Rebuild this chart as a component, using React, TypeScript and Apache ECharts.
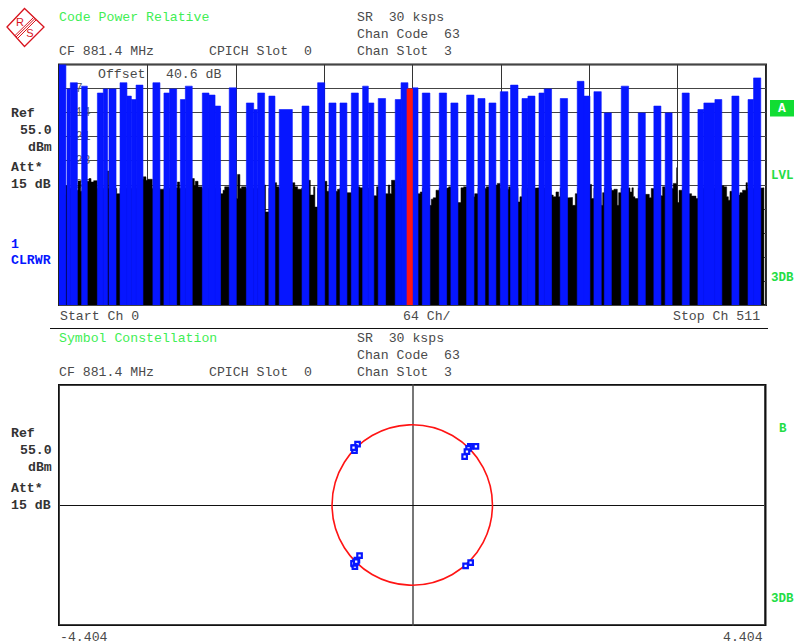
import React, { useEffect, useRef } from "react";
import * as echarts from "echarts";

// Code power: blue (active) codes, channel range and level in dB
const activeStart = [0, 5.8, 8.2, 16.4, 27.8, 32.1, 36.2, 44.2, 49.2, 52.4, 55.8, 68, 76, 80.1, 87.9, 91.5, 103.8, 108.6, 113, 123.3, 135.7, 141, 143.9, 152, 159.5, 176, 187.3, 195.5, 203.5, 211.7, 219.9, 224, 231.2, 243.5, 247.7, 256, 263.1, 275.4, 283.8, 295.2, 303.4, 311.4, 319.6, 327, 335.3, 339.6, 347.6, 351.4, 363, 375.3, 380.2, 387.4, 394.9, 407.2, 419.5, 430.8, 439, 451.3, 462.7, 467, 475, 487.3, 499, 503];
const activeEnd = [5, 8.2, 13.3, 20.5, 32.1, 35.2, 41.3, 49.2, 52.4, 55.8, 60.8, 73.1, 80.1, 85.2, 91.5, 96.5, 108.6, 113, 117, 128.4, 141, 143.9, 148.9, 156.4, 169, 181, 192.4, 200.6, 208.5, 216.8, 224, 228, 236.5, 247.7, 252.7, 260, 268.6, 280.7, 288.9, 300.5, 308.5, 316.4, 325.1, 332.4, 339.6, 344.7, 351.4, 356.7, 368.3, 380.2, 384.5, 392.7, 400, 412.5, 424.6, 435.9, 444, 456.4, 467, 475, 480, 492.4, 503, 508.2];
const activeLevel = [0, -7.1, -5.3, -6.3, -8.3, -7.1, -7.1, -5.3, -9.2, -10.2, -6, -5.3, -8.3, -7.1, -10.2, -6.3, -8.3, -8.9, -12.1, -6.8, -11.2, -13.1, -8.3, -9.2, -13.1, -12.1, -5.3, -11.2, -11.2, -8.3, -6.3, -11.2, -9.9, -10.2, -5.3, -6.8, -8.3, -8.3, -11.2, -8.9, -9.9, -11.2, -7.9, -6, -9.9, -9.2, -8.3, -7.1, -9.9, -4.9, -9.2, -7.9, -14.1, -6.3, -14.1, -12.1, -14.1, -8.3, -13.1, -11.2, -10.2, -9.2, -10.2, -3.9];

// Selected code 63
const selectedCode = [[252, 256, -7.1]];

// Inactive code noise floor: channel where each level begins, and the level in dB
const noiseChannel = [0, 4.6, 5.8, 12.6, 13.8, 15.7, 16.7, 19.6, 21.7, 23.2, 25.1, 27.8, 34.5, 36, 40.8, 41.8, 44.2, 59.6, 61, 63, 64.4, 67.6, 72.9, 76, 84.2, 85.7, 87.4, 95.8, 98, 98.7, 100.7, 103.6, 117, 118.8, 120, 123.3, 127.4, 129.3, 131, 132.2, 135.4, 147.9, 149.6, 152, 155.9, 157.6, 159.3, 168, 168.9, 170.8, 172.8, 175.7, 180.5, 182, 184.4, 185.3, 187.3, 191.4, 194, 195.5, 199.8, 201.7, 203.4, 208.3, 211.9, 216, 217.9, 220.3, 227.6, 230, 231.7, 235.5, 238.4, 239.6, 240.8, 243.7, 259.2, 261.6, 263.3, 268.2, 269.6, 271, 273, 275.4, 280.7, 282.2, 283.8, 288.7, 291.1, 293, 295.4, 299.5, 301, 303.4, 308.2, 309.4, 311.6, 315.9, 317.4, 319.6, 324.6, 325.6, 327, 332.4, 333.8, 335.3, 343.7, 347.8, 356.3, 357.9, 359.9, 361.8, 363, 367.8, 369, 371.9, 373.9, 375.6, 384, 384.5, 385.7, 387.4, 392.5, 392.7, 393.7, 395.1, 400, 401.9, 404.3, 405.3, 407, 411.8, 413.5, 414.9, 415.9, 417.1, 419.5, 424.3, 427.5, 428.9, 430.8, 435.2, 437.1, 439, 443.6, 444.8, 447.3, 447.7, 449, 451.6, 455.7, 458.1, 461.3, 462.9, 479.4, 481.5, 483.5, 484.7, 485.9, 487.6, 491.9, 493.1, 495, 497.5, 498.7, 507.6, 510.5];
const noiseLevel = [-38, -35.3, -36, -36.6, -33.9, -36.9, -36, -34, -33.2, -34.2, -33.8, -36, -31, -36, -36.1, -37.6, -36, -33.4, -32.7, -33.7, -33.4, -36, -36.3, -36, -35.9, -34.2, -36, -33.2, -35.3, -34, -35.6, -36, -37.6, -36.6, -35.6, -36, -39, -32, -36.1, -35.6, -36, -35.1, -42.9, -36, -34.4, -35.6, -36, -36.1, -34.4, -35.6, -36.3, -36, -33.7, -38, -35.6, -41.5, -36, -34, -36.9, -36, -36.9, -36.3, -36, -37.3, -36, -35.6, -35.9, -36, -38.2, -35.6, -36, -37.6, -35.1, -37.6, -33.7, -36, -37.6, -37.1, -36, -41, -39.2, -38.8, -36.6, -36, -35.9, -35.6, -36, -40.2, -35.9, -35.6, -36, -38.5, -37.6, -36, -36.1, -35.6, -36, -35.1, -34.6, -36, -36.3, -35.6, -36, -40, -38.5, -36, -35.9, -36, -38, -38.5, -37.1, -38.5, -36, -38.8, -38.7, -41, -37.6, -36, -37.1, -34.9, -39, -36, -36.6, -41, -37.3, -36, -36.6, -36.3, -41, -37.3, -36, -35.9, -37.1, -35.9, -38.5, -39, -36, -37.8, -38.8, -36.1, -36, -38.2, -35.6, -36, -36.1, -34.6, -30, -40.2, -36.6, -36, -37.6, -38.3, -39, -36, -35.3, -35.6, -38.5, -39.5, -36.9, -36, -38, -37.3, -36.6, -34.4, -36, -35.9, -70];

// Constellation symbols (I, Q)
const symbolI = [-0.682, -0.72, -0.72, -0.732, 0.794, 0.724, 0.702, 0.682, 0.653, 0.728, 0.665, -0.657, -0.69, -0.711, -0.724, -0.715, -0.732, -0.699];
const symbolQ = [0.762, 0.716, 0.679, 0.716, 0.734, 0.734, 0.709, 0.666, 0.604, -0.721, -0.762, -0.634, -0.688, -0.721, -0.738, -0.771, -0.729, -0.709];
const unitRadius = [[0, 0, 1]];

const powerTicks = [7, 14, 21, 28, 35];

const MONO = "'Liberation Mono', 'Courier New', monospace";
const GREY = "#4a4a4a";
const GREEN = "#3fee55";
const BLUE = "#0616ff";

type Label = [string, number, number, string?, boolean?];

const greyLabels: Label[] = [
  ["SR  30 ksps", 357, 17.5],
  ["Chan Code  63", 357, 34.5],
  ["CF 881.4 MHz", 59, 51.5],
  ["CPICH Slot  0", 209, 51.5],
  ["Chan Slot  3", 357, 51.5],
  ["Offset", 98, 74.5],
  ["40.6 dB", 166, 74.5],
  ["Start Ch 0", 60, 316],
  ["64 Ch/", 403, 316],
  ["Stop Ch 511", 673, 316],
  ["SR  30 ksps", 357, 338.5],
  ["Chan Code  63", 357, 355.5],
  ["CF 881.4 MHz", 59, 372.5],
  ["CPICH Slot  0", 209, 372.5],
  ["Chan Slot  3", 357, 372.5],
  ["-4.404", 60, 637],
  ["4.404", 723, 637],
];
const boldLabels: Label[] = [
  ["Ref", 11, 113],
  ["55.0", 20, 130],
  ["dBm", 28, 147],
  ["Att*", 11, 167.5],
  ["15 dB", 11, 184.5],
  ["Ref", 11, 433.5],
  ["55.0", 20, 450.5],
  ["dBm", 28, 467.5],
  ["Att*", 11, 488.5],
  ["15 dB", 11, 505.5],
];
const greenLabels: Label[] = [
  ["Code Power Relative", 59, 17.5, GREEN, false],
  ["Symbol Constellation", 59, 338.5, GREEN, false],
  ["LVL", 771, 176, "#22dd44", true],
  ["3DB", 771, 278, "#22dd44", true],
  ["B", 779, 429, "#22dd44", true],
  ["3DB", 771, 599, "#22dd44", true],
];
const blueLabels: Label[] = [
  ["1", 11, 244, BLUE, true],
  ["CLRWR", 11, 260, BLUE, true],
];

function txt(l: Label, color: string, bold: boolean, size = 13.2) {
  return {
    type: "text",
    z: 20,
    x: l[1],
    y: l[2],
    silent: true,
    style: {
      text: l[0],
      fill: color,
      font: `${bold ? "bold " : ""}${size}px ${MONO}`,
      textAlign: "left",
      textVerticalAlign: "middle",
    },
  };
}

function barItem(color: string) {
  return (_: any, api: any) => {
    const a = api.coord([api.value(0), api.value(2)]);
    const b = api.coord([api.value(1), -70]);
    return {
      type: "rect",
      shape: { x: a[0], y: a[1], width: b[0] - a[0], height: b[1] - a[1] },
      style: { fill: color, stroke: color, lineWidth: 0.6 },
    };
  };
}

export default function App() {
  const ref = useRef<HTMLDivElement>(null);
  useEffect(() => {
    const chart = echarts.init(ref.current!, undefined, { renderer: "svg" });
    const logoRed = "#d8141e";
    const logo = [
      { type: "polygon", shape: { points: [[7, 27], [24.5, 8.5], [44, 27], [24.5, 46.5]] }, style: { fill: "#fff", stroke: logoRed, lineWidth: 1.3 } },
      { type: "line", shape: { x1: 15, y1: 35.5, x2: 34, y2: 17 }, style: { stroke: logoRed, lineWidth: 1 } },
      { type: "line", shape: { x1: 16, y1: 37, x2: 35, y2: 18.5 }, style: { stroke: logoRed, lineWidth: 1 } },
      { type: "line", shape: { x1: 17.5, y1: 38.5, x2: 36, y2: 20 }, style: { stroke: logoRed, lineWidth: 1 } },
      { type: "text", x: 20, y: 22, style: { text: "R", fill: logoRed, font: "11px 'Liberation Sans', sans-serif", textAlign: "center", textVerticalAlign: "middle" } },
      { type: "text", x: 30, y: 33, style: { text: "S", fill: logoRed, font: "11px 'Liberation Sans', sans-serif", textAlign: "center", textVerticalAlign: "middle" } },
    ].map((e) => ({ ...e, z: 20, silent: true }));

    chart.setOption({
      animation: false,
      backgroundColor: "#fff",
      grid: [
        { left: 59, top: 64.5, width: 707, height: 240.5, show: true, borderColor: "#222", borderWidth: 2, backgroundColor: "#fff" },
        { left: 59, top: 385, width: 706.5, height: 240, show: true, borderColor: "#111", borderWidth: 2, backgroundColor: "#fff" },
      ],
      xAxis: [
        {
          gridIndex: 0, type: "value", min: 0, max: 512, interval: 64,
          axisLine: { show: false }, axisTick: { show: false }, axisLabel: { show: false },
          splitLine: { show: true, lineStyle: { color: "#333", width: 1 } },
        },
        {
          gridIndex: 1, type: "value", min: -4.404, max: 4.404,
          axisLine: { show: true, onZero: true, lineStyle: { color: "#111", width: 1 } },
          axisTick: { show: false }, axisLabel: { show: false }, splitLine: { show: false },
        },
      ],
      yAxis: [
        {
          gridIndex: 0, type: "value", min: -70, max: 0, interval: 7,
          axisLine: { show: false }, axisTick: { show: false },
          axisLabel: {
            show: true, inside: true, margin: 16, color: "#666",
            fontFamily: MONO, fontSize: 13, align: "left",
            formatter: (v: number) => (powerTicks.includes(-v) ? String(-v) : ""),
          },
          splitLine: { show: true, lineStyle: { color: "#444", width: 1.2 } },
        },
        {
          gridIndex: 1, type: "value", min: -1.5, max: 1.5,
          axisLine: { show: true, onZero: true, lineStyle: { color: "#555", width: 1.6 } },
          axisTick: { show: false }, axisLabel: { show: false }, splitLine: { show: false },
        },
      ],
      series: [
        {
          type: "line", xAxisIndex: 0, yAxisIndex: 0, step: "end", showSymbol: false, z: 3,
          data: noiseChannel.map((c, i) => [c, noiseLevel[i]]),
          lineStyle: { width: 0.5, color: "#000" },
          areaStyle: { color: "#000", opacity: 1, origin: "start" },
        },
        {
          type: "custom", xAxisIndex: 0, yAxisIndex: 0, z: 4, clip: true,
          encode: { x: [0, 1], y: 2 },
          data: activeStart.map((s, i) => [s, activeEnd[i], activeLevel[i]]),
          renderItem: barItem(BLUE),
        },
        {
          type: "custom", xAxisIndex: 0, yAxisIndex: 0, z: 5, clip: true,
          encode: { x: [0, 1], y: 2 },
          data: selectedCode,
          renderItem: barItem("#ff1414"),
        },
        {
          type: "custom", xAxisIndex: 1, yAxisIndex: 1, z: 3, clip: true,
          encode: { x: 0, y: 1 },
          data: unitRadius,
          renderItem: (_: any, api: any) => {
            const c = api.coord([api.value(0), api.value(1)]);
            const s = api.size([api.value(2), api.value(2)]);
            return {
              type: "circle",
              shape: { cx: c[0], cy: c[1], r: s[0] },
              style: { fill: "none", stroke: "#ff1414", lineWidth: 1.6 },
            };
          },
        },
        {
          type: "scatter", xAxisIndex: 1, yAxisIndex: 1, z: 4,
          symbol: "rect", symbolSize: 4.5,
          data: symbolI.map((v, i) => [v, symbolQ[i]]),
          itemStyle: { color: "#fff", borderColor: BLUE, borderWidth: 2.2, opacity: 1 },
        },
      ],
      graphic: [
        ...logo,
        ...greyLabels.map((l) => txt(l, GREY, false)),
        ...boldLabels.map((l) => txt(l, "#333", true)),
        ...greenLabels.map((l) => txt(l, l[3]!, !!l[4], l[1] > 760 ? 12.5 : 13.2)),
        ...blueLabels.map((l) => txt(l, l[3]!, !!l[4])),
        { type: "line", z: 20, silent: true, shape: { x1: 50, y1: 328.5, x2: 768, y2: 328.5 }, style: { stroke: "#111", lineWidth: 1 } },
        { type: "rect", z: 20, silent: true, shape: { x: 770, y: 100, width: 24, height: 16.5 }, style: { fill: "#11dd33" } },
        { type: "text", z: 21, silent: true, x: 782, y: 108, style: { text: "A", fill: "#fff", font: `bold 13px ${MONO}`, textAlign: "center", textVerticalAlign: "middle" } },
        { type: "rect", z: 20, silent: true, shape: { x: 59.5, y: 385.5, width: 705, height: 239 }, style: { fill: "none", stroke: "#444", lineWidth: 1 } },
      ],
    });
    return () => chart.dispose();
  }, []);
  return <div ref={ref} style={{ position: "absolute", left: 0, top: 0, width: 794, height: 643 }} />;
}
